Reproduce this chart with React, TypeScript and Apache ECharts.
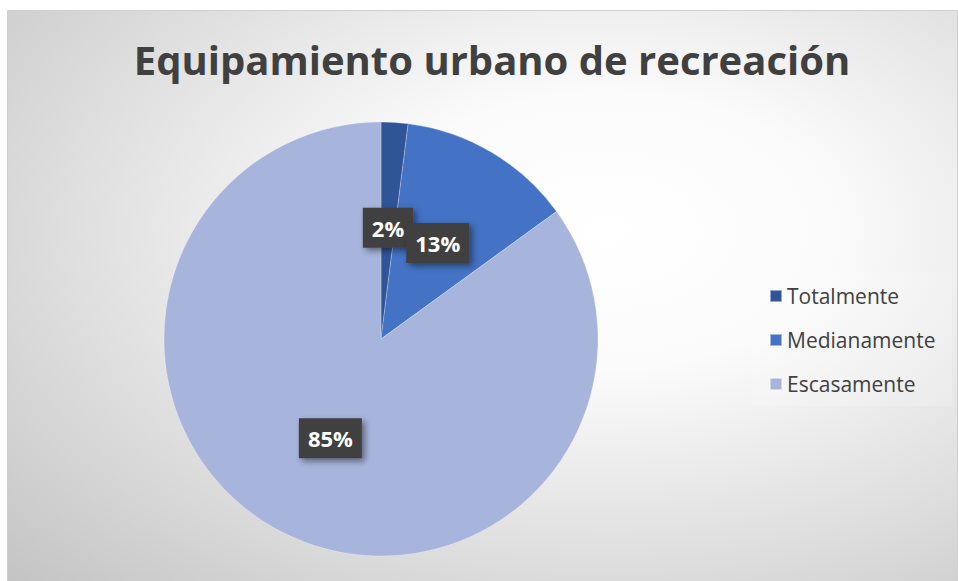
import React, { useEffect, useRef } from "react";
import * as echarts from "echarts";

const categories = ["Totalmente", "Medianamente", "Escasamente"];
const values = [2, 13, 85];
const colors = ["#2F5597", "#4472C4", "#A7B5DC"];
const titleText = "Equipamiento urbano de recreación";

export default function App() {
  const ref = useRef<HTMLDivElement>(null);
  useEffect(() => {
    if (!ref.current) return;
    const chart = echarts.init(ref.current, undefined, { renderer: "svg" });
    const font = "'Open Sans', 'Noto Sans', sans-serif";
    chart.setOption({
      animation: false,
      backgroundColor: "#ffffff",
      graphic: [
        {
          type: "rect",
          silent: true,
          z: -10,
          shape: { x: 7.5, y: 10.5, width: 950, height: 580 },
          style: {
            fill: {
              type: "radial",
              x: 0.63,
              y: 0.38,
              r: 0.95,
              colorStops: [
                { offset: 0, color: "#ffffff" },
                { offset: 0.25, color: "#fbfbfb" },
                { offset: 1, color: "#bdbdbd" },
              ],
            },
            stroke: "#d0d0d0",
            lineWidth: 1,
          },
        },
        {
          type: "rect",
          silent: true,
          z: -5,
          shape: { x: 752, y: 272, width: 200, height: 134 },
          style: { fill: "rgba(255,255,255,0.18)" },
        },
      ],
      title: {
        text: titleText,
        left: 487,
        top: 34,
        textAlign: "center",
        textStyle: {
          fontFamily: font,
          fontSize: 40,
          fontWeight: "bold",
          color: "#404040",
        },
      },
      legend: {
        orient: "vertical",
        left: 764,
        top: 278,
        itemWidth: 12,
        itemHeight: 12,
        itemGap: 18,
        icon: "rect",
        data: categories,
        textStyle: {
          fontFamily: font,
          fontSize: 21,
          color: "#404040",
          lineHeight: 26,
        },
      },
      series: [
        {
          type: "pie",
          center: [381, 339],
          radius: [0, 217],
          startAngle: 90,
          clockwise: true,
          avoidLabelOverlap: false,
          labelLayout: { hideOverlap: false },
          itemStyle: { borderColor: "rgba(255,255,255,0.5)", borderWidth: 0.5 },
          label: {
            show: true,
            position: "inside",
            formatter: (p: any) => p.value + "%",
            fontFamily: font,
            fontSize: 22,
            fontWeight: "bold",
            color: "#ffffff",
            backgroundColor: "#414141",
            lineHeight: 24,
            padding: [8, 9, 8, 9],
            shadowColor: "rgba(0,0,0,0.45)",
            shadowBlur: 6,
            shadowOffsetX: 3,
            shadowOffsetY: 3,
          },
          labelLine: { show: false },
          emphasis: { disabled: true },
          data: categories.map((c, i) => ({
            name: c,
            value: values[i],
            itemStyle: { color: colors[i] },
          })),
        },
      ],
    });
    return () => chart.dispose();
  }, []);
  return (
    <div
      ref={ref}
      style={{ position: "fixed", left: 0, top: 0, width: 958, height: 581 }}
    />
  );
}
